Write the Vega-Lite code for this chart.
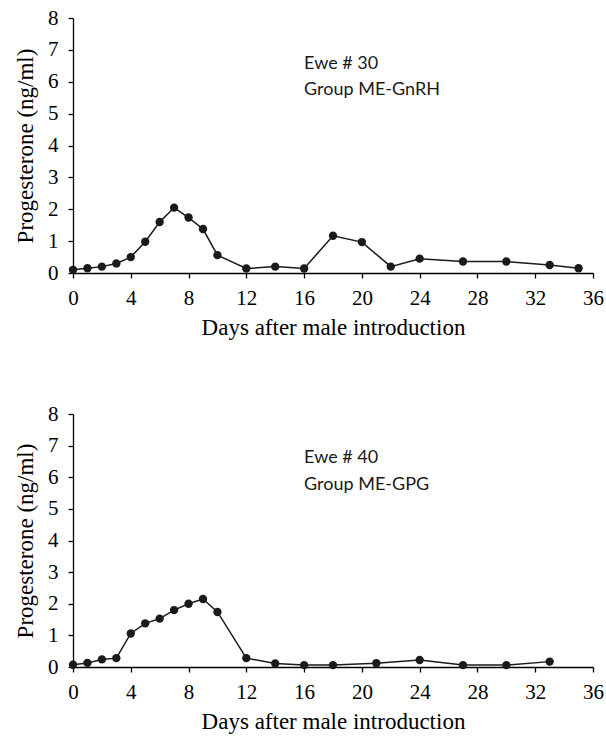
{
  "$schema": "https://vega.github.io/schema/vega-lite/v6.json",
  "padding": {"left": 14, "top": 7, "right": 0, "bottom": 5},
  "spacing": 64,
  "config": {
    "view": {"stroke": null},
    "axis": {
      "grid": false,
      "domainColor": "#000000",
      "tickColor": "#000000",
      "tickSize": 5,
      "domainWidth": 1.3,
      "tickWidth": 1.3,
      "labelFont": "Liberation Serif",
      "labelFontSize": 21,
      "labelColor": "#000000",
      "labelOverlap": false,
      "labelFlush": false,
      "titleFont": "Liberation Serif",
      "titleFontSize": 23,
      "titleFontWeight": "normal",
      "titleColor": "#000000"
    },
    "axisX": {"labelPadding": 9, "titlePadding": 8},
    "axisY": {"labelPadding": 10, "titlePadding": 10}
  },
  "datasets": {
    "ewe30": [
      {"day": 0, "p4": 0.1}, {"day": 1, "p4": 0.15}, {"day": 2, "p4": 0.2}, {"day": 3, "p4": 0.3},
      {"day": 4, "p4": 0.5}, {"day": 5, "p4": 0.98}, {"day": 6, "p4": 1.6}, {"day": 7, "p4": 2.05},
      {"day": 8, "p4": 1.74}, {"day": 9, "p4": 1.38}, {"day": 10, "p4": 0.56}, {"day": 12, "p4": 0.14},
      {"day": 14, "p4": 0.2}, {"day": 16, "p4": 0.14}, {"day": 18, "p4": 1.17}, {"day": 20, "p4": 0.97},
      {"day": 22, "p4": 0.2}, {"day": 24, "p4": 0.45}, {"day": 27, "p4": 0.36}, {"day": 30, "p4": 0.36},
      {"day": 33, "p4": 0.25}, {"day": 35, "p4": 0.15}
    ],
    "ewe40": [
      {"day": 0, "p4": 0.07}, {"day": 1, "p4": 0.13}, {"day": 2, "p4": 0.24}, {"day": 3, "p4": 0.28},
      {"day": 4, "p4": 1.06}, {"day": 5, "p4": 1.38}, {"day": 6, "p4": 1.53}, {"day": 7, "p4": 1.8},
      {"day": 8, "p4": 2.0}, {"day": 9, "p4": 2.15}, {"day": 10, "p4": 1.74}, {"day": 12, "p4": 0.28},
      {"day": 14, "p4": 0.11}, {"day": 16, "p4": 0.06}, {"day": 18, "p4": 0.06}, {"day": 21, "p4": 0.12},
      {"day": 24, "p4": 0.22}, {"day": 27, "p4": 0.06}, {"day": 30, "p4": 0.06}, {"day": 33, "p4": 0.17}
    ]
  },
  "vconcat": [
    {
      "width": 520,
      "height": 255,
      "layer": [
        {
          "data": {"name": "ewe30"},
          "mark": {"type": "line", "color": "#1a1a1a", "strokeWidth": 1.5},
          "encoding": {
            "x": {"field": "day", "type": "quantitative", "scale": {"domain": [0, 36], "nice": false},
                  "axis": {"values": [0, 4, 8, 12, 16, 20, 24, 28, 32, 36], "tickCount": 12, "format": "d", "title": "Days after male introduction"}},
            "y": {"field": "p4", "type": "quantitative", "scale": {"domain": [0, 8], "nice": false},
                  "axis": {"values": [0, 1, 2, 3, 4, 5, 6, 7, 8], "tickCount": 12, "format": "d", "title": "Progesterone (ng/ml)"}}
          }
        },
        {
          "data": {"name": "ewe30"},
          "mark": {"type": "circle", "color": "#1a1a1a", "opacity": 1, "size": 70},
          "encoding": {
            "x": {"field": "day", "type": "quantitative"},
            "y": {"field": "p4", "type": "quantitative"}
          }
        },
        {
          "data": {"values": [{"day": 16, "p4": 6.56, "label": "Ewe # 30"}, {"day": 16, "p4": 5.74, "label": "Group ME-GnRH"}]},
          "mark": {"type": "text", "align": "left", "baseline": "middle", "font": "Lato", "fontSize": 18, "color": "#1a1a1a"},
          "encoding": {
            "x": {"field": "day", "type": "quantitative"},
            "y": {"field": "p4", "type": "quantitative"},
            "text": {"field": "label"}
          }
        }
      ]
    },
    {
      "width": 520,
      "height": 253,
      "layer": [
        {
          "data": {"name": "ewe40"},
          "mark": {"type": "line", "color": "#1a1a1a", "strokeWidth": 1.5},
          "encoding": {
            "x": {"field": "day", "type": "quantitative", "scale": {"domain": [0, 36], "nice": false},
                  "axis": {"values": [0, 4, 8, 12, 16, 20, 24, 28, 32, 36], "tickCount": 12, "format": "d", "title": "Days after male introduction"}},
            "y": {"field": "p4", "type": "quantitative", "scale": {"domain": [0, 8], "nice": false},
                  "axis": {"values": [0, 1, 2, 3, 4, 5, 6, 7, 8], "tickCount": 12, "format": "d", "title": "Progesterone (ng/ml)"}}
          }
        },
        {
          "data": {"name": "ewe40"},
          "mark": {"type": "circle", "color": "#1a1a1a", "opacity": 1, "size": 70},
          "encoding": {
            "x": {"field": "day", "type": "quantitative"},
            "y": {"field": "p4", "type": "quantitative"}
          }
        },
        {
          "data": {"values": [{"day": 16, "p4": 6.61, "label": "Ewe # 40"}, {"day": 16, "p4": 5.76, "label": "Group ME-GPG"}]},
          "mark": {"type": "text", "align": "left", "baseline": "middle", "font": "Lato", "fontSize": 18, "color": "#1a1a1a"},
          "encoding": {
            "x": {"field": "day", "type": "quantitative"},
            "y": {"field": "p4", "type": "quantitative"},
            "text": {"field": "label"}
          }
        }
      ]
    }
  ]
}
